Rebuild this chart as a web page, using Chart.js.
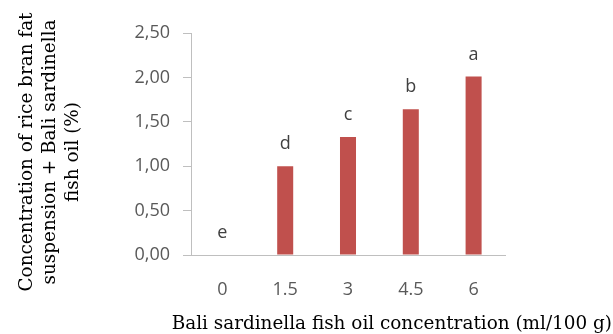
<!DOCTYPE html>
<html>
<head>
<meta charset="utf-8">
<script src="https://cdn.jsdelivr.net/npm/chart.js@4"></script>
<style>
    html, body { margin: 0; padding: 0; background: #fff; }
    #wrap { width: 613px; height: 334px; }
</style>
</head>
<body>
<div id="wrap"><canvas id="Chart" width="613" height="334"></canvas></div>
<script>
// data
let categories = ["0", "1.5", "3", "4.5", "6"];
let concentration = [0, 1.0, 1.33, 1.64, 2.01];
let letters = ["e", "d", "c", "b", "a"];
let yTicks = [0, 0.5, 1.0, 1.5, 2.0, 2.5];

let yTitle = ["Concentration of rice bran fat", "suspension + Bali sardinella", "fish oil (%)"];
let xTitle = "Bali sardinella fish oil concentration (ml/100 g)";

// letters above bars + axis titles
let extras = {
    id: "extras",
    afterDatasetsDraw: function (chart) {
        let c = chart.ctx;
        let meta = chart.getDatasetMeta(0);
        c.save();
        c.fillStyle = "#404040";
        c.font = "18px 'Open Sans'";
        c.textAlign = "center";
        c.textBaseline = "middle";
        meta.data.forEach(function (bar, i) {
            c.fillText(letters[i], bar.x, bar.y - 22);
        });

        c.fillStyle = "#000";
        c.font = "18.4px 'DejaVu Serif'";
        c.textBaseline = "alphabetic";
        c.textAlign = "right";
        c.fillText(xTitle, 612, 329);

        c.translate(0, 152);
        c.rotate(-Math.PI / 2);
        c.textAlign = "center";
        let xs = [32, 55, 78];
        yTitle.forEach(function (line, i) {
            c.fillText(line, 0, xs[i]);
        });
        c.restore();
    },
};

new Chart(document.getElementById("Chart").getContext("2d"), {
    type: "bar",
    data: {
        labels: categories,
        datasets: [
            {
                data: concentration,
                backgroundColor: "#c0504d",
                borderWidth: 0,
                barPercentage: 1,
                categoryPercentage: 0.255,
            },
        ],
    },
    options: {
        responsive: false,
        animation: false,
        layout: { padding: { left: 0, top: 33, right: 108, bottom: 0 } },
        scales: {
            x: {
                afterFit: function (s) { s.height = 79; },
                grid: { display: false },
                border: { color: "#bfbfbf", width: 1 },
                ticks: { color: "#595959", font: { family: "Open Sans", size: 18 }, padding: 16 },
            },
            y: {
                min: 0,
                max: 2.5,
                afterFit: function (s) { s.width = 191; },
                afterBuildTicks: function (s) {
                    s.ticks = yTicks.map(function (v) { return { value: v }; });
                },
                grid: { drawOnChartArea: false, tickLength: 8, color: "#bfbfbf" },
                border: { color: "#bfbfbf", width: 1 },
                ticks: {
                    color: "#595959",
                    font: { family: "Open Sans", size: 18 },
                    padding: 13,
                    callback: function (v) { return v.toFixed(2).replace(".", ","); },
                },
            },
        },
        plugins: {
            legend: { display: false },
            title: { display: false },
            tooltip: { enabled: false },
        },
    },
    plugins: [extras],
});
</script>
</body>
</html>
